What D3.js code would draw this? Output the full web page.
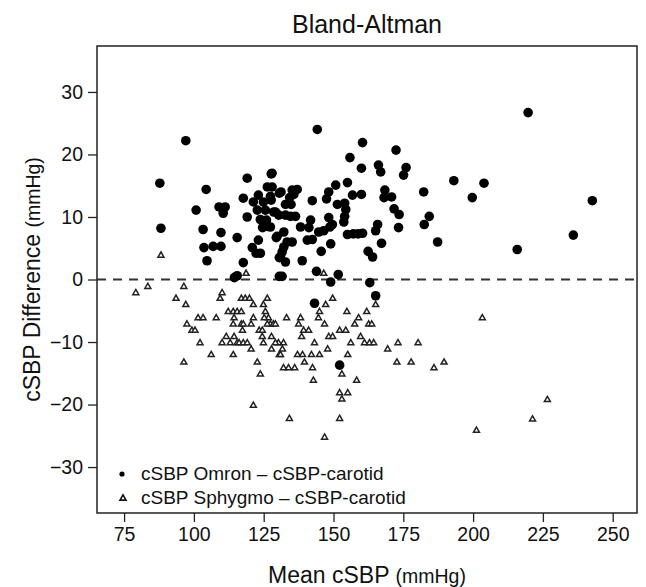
<!DOCTYPE html>
<html>
<head>
<meta charset="utf-8">
<script src="https://cdn.jsdelivr.net/npm/d3@7"></script>
<style>
  body { margin: 0; background: #fff; }
  svg { font-family: "Liberation Sans", Arial, sans-serif; }
</style>
</head>
<body>
<svg id="chart"></svg>
<script>
/*------------------------
  ------ VARIABLES -------
  ------------------------*/

// data : cSBP Omron - cSBP carotid (mean, difference)
var omron_mean = [97.1, 87.8, 88.2, 104.4, 100.8, 103.3, 103.6, 106.9, 104.7, 109.0, 111.2, 110.5, 109.7, 109.7,
    115.5, 117.7, 114.5, 115.5, 119.1, 117.7, 119.1, 121.3, 123.1, 126.3, 127.7, 124.9, 127.7, 122.7, 125.6,
    129.2, 123.8, 126.0, 124.6, 126.3, 129.5, 123.1, 120.9, 122.3, 123.8, 130.6, 130.6, 130.6,
    144.2, 160.4, 155.9, 172.4, 160.0, 166.1, 166.9, 176.0, 175.1, 193.1, 203.9, 199.7, 182.3, 184.3, 182.5,
    187.3, 168.4, 168.1, 170.8, 171.7, 173.5, 173.3, 165.8, 165.1, 167.2, 162.4, 164.0, 156.8, 160.0, 155.0,
    150.8, 148.3, 147.5, 151.4, 142.4, 154.0, 154.4, 154.0, 153.7, 148.3, 149.6, 148.7, 146.5, 144.7, 155.0,
    157.1, 158.8, 160.4, 149.0, 145.6, 143.9, 151.7, 149.0, 163.0, 165.1, 128.0, 128.0, 131.2, 135.2, 137.0,
    135.8, 134.3, 132.8, 134.8, 128.6, 130.4, 132.8, 134.6, 136.4, 138.2, 141.8, 141.2, 129.8, 132.2, 140.6,
    142.4, 133.4, 135.2, 132.2, 131.6, 131.0, 132.8, 138.8, 131.6, 127.4, 127.4,
    219.7, 242.7, 235.9, 215.8, 143.2, 152.2];
var omron_diff = [22.2, 15.4, 8.2, 14.4, 11.1, 8.0, 5.1, 5.3, 3.0, 11.6, 11.6, 10.6, 7.5, 5.3,
    6.7, 2.7, 0.3, 0.6, 16.2, 13.0, 10.0, 12.4, 13.5, 14.8, 16.9, 12.4, 12.7, 11.1, 11.1,
    10.8, 9.6, 9.5, 8.3, 8.5, 6.7, 6.3, 5.1, 4.2, 4.2, 3.5, 0.5, 13.8,
    24.0, 21.9, 19.5, 20.7, 17.8, 18.3, 17.2, 17.9, 16.7, 15.8, 15.4, 13.1, 14.0, 10.1, 8.8,
    6.0, 14.3, 13.1, 13.2, 11.3, 10.4, 8.3, 8.8, 7.8, 5.8, 4.5, 3.6, 13.5, 13.6, 15.5,
    15.1, 14.0, 12.9, 12.0, 12.6, 12.2, 11.2, 10.1, 9.2, 9.9, 8.8, 8.4, 7.8, 7.6, 7.2,
    7.3, 7.3, 7.4, 5.7, 4.5, 1.3, 0.8, -0.4, -0.5, -2.6, 17.0, 14.8, 14.0, 14.3, 14.4,
    13.6, 13.1, 12.0, 12.0, 10.8, 10.3, 10.3, 10.1, 10.1, 8.4, 9.5, 8.3, 6.9, 7.6, 6.3,
    6.4, 6.0, 6.0, 5.2, 4.4, 3.6, 2.8, 3.0, 0.5, 8.4, 13.3,
    26.7, 12.6, 7.1, 4.8, -3.8, -13.7];

// data : cSBP Sphygmo - cSBP carotid (mean, difference)
var sphygmo_mean = [88.2, 118.7, 146.5, 79.2, 83.5, 96.4, 93.6, 97.1, 110.1, 109.4, 117.0, 118.4, 119.9,
    121.3, 126.3, 124.9, 125.6, 112.3, 114.1, 115.5, 117.0, 97.5, 101.5, 103.3, 108.0, 99.3, 100.4, 102.2,
    106.2, 96.4, 114.4, 114.1, 117.0, 117.7, 121.3, 117.4, 120.5, 111.6, 114.4, 110.1, 113.0, 115.5, 116.2,
    117.7, 119.1, 114.1, 120.5, 122.7, 123.8, 121.3, 123.4, 124.5, 124.5, 124.9, 126.7, 127.4, 128.5, 129.2,
    127.8, 127.8, 130.3, 130.6, 125.2, 126.3, 133.2, 138.2, 137.5, 139.3, 141.1, 138.6, 129.2, 132.1, 131.7,
    131.0, 137.1, 138.9, 142.1, 145.0, 132.1, 133.9, 136.1, 139.6, 142.5, 142.8, 143.2, 147.9, 144.6, 146.8,
    145.0, 147.2, 149.7, 148.3, 149.7, 152.2, 154.4, 155.1, 156.2, 154.8, 153.0, 152.2, 155.1, 153.0, 158.3,
    152.2, 134.2, 146.8, 157.6, 159.0, 161.9, 159.7, 161.1, 162.9, 164.4, 162.6, 163.7, 165.1, 169.4, 173.1,
    180.3, 172.7, 177.8, 186.0, 189.6, 203.3, 201.2, 226.6, 221.3];
var sphygmo_diff = [3.9, 1.0, 1.0, -2.1, -1.1, -1.1, -3.0, -4.0, -2.1, -3.0, -3.0, -3.0, -3.0,
    -4.0, -3.0, -4.0, -5.1, -5.1, -5.1, -5.1, -5.1, -7.1, -6.1, -6.1, -6.1, -8.1, -8.1, -10.1,
    -12.0, -13.2, -6.1, -7.1, -7.1, -7.1, -6.1, -8.1, -7.1, -9.1, -9.1, -10.1, -10.1, -10.1, -10.1,
    -10.1, -10.1, -12.0, -11.1, -13.2, -15.1, -20.1, -8.1, -8.1, -9.1, -10.1, -6.1, -7.1, -7.1, -7.1,
    -9.1, -11.1, -10.1, -12.0, -6.1, -7.1, -6.1, -6.1, -7.1, -8.1, -8.1, -9.1, -10.1, -10.1, -11.1,
    -12.0, -12.0, -12.0, -12.0, -12.0, -14.1, -14.1, -14.1, -13.2, -14.1, -16.1, -10.1, -11.1, -6.1, -7.1,
    -5.1, -4.0, -3.0, -9.1, -9.1, -8.1, -8.1, -12.0, -10.1, -5.1, -15.1, -18.1, -18.1, -19.1, -16.1,
    -22.2, -22.2, -25.2, -7.1, -6.1, -5.1, -9.1, -10.1, -10.1, -10.1, -7.1, -7.1, -4.0, -11.1, -10.1,
    -10.1, -13.2, -13.2, -14.1, -13.2, -6.1, -24.1, -19.2, -22.3];

// axes
var x_ticks = [75, 100, 125, 150, 175, 200, 225, 250];
var y_ticks = [-30, -20, -10, 0, 10, 20, 30];
var legend_labels = ["cSBP Omron \u2013 cSBP-carotid", "cSBP Sphygmo \u2013 cSBP-carotid"];

// display
var width = 646, height = 587;
var box = {left: 97, right: 637, top: 46, bot: 513};

var x = d3.scaleLinear().domain([65.3, 258.7]).range([box.left, box.right]);
var y = d3.scaleLinear().domain([-37.35, 37.35]).range([box.bot, box.top]);

var svg = d3.select("#chart").attr("width", width).attr("height", height);

function tri_path(cx, cy, s) {
    var h = s * 0.87;
    return "M" + cx + "," + (cy - h * 0.6) +
        "L" + (cx + s / 2) + "," + (cy + h * 0.4) +
        "L" + (cx - s / 2) + "," + (cy + h * 0.4) + "Z";
}

/*------------------------
  -------- AXES ----------
  ------------------------*/

var gx = svg.append("g")
    .attr("transform", "translate(0," + box.bot + ")")
    .call(d3.axisBottom(x).tickValues(x_ticks).tickSize(9).tickPadding(5).tickFormat(d3.format("d")));
var gy = svg.append("g")
    .attr("transform", "translate(" + box.left + ",0)")
    .call(d3.axisLeft(y).tickValues(y_ticks).tickSize(9).tickPadding(5).tickFormat(d3.format("d")));

[gx, gy].forEach(function(g) {
    g.select(".domain").remove();
    g.selectAll(".tick line").attr("stroke", "#222").attr("stroke-width", 1.3);
    g.selectAll(".tick text").attr("fill", "#111").style("font-size", "19.5px")
        .style("font-family", "'Liberation Sans', Arial, sans-serif");
});

// zero line
svg.append("line")
    .attr("x1", box.left).attr("x2", box.right)
    .attr("y1", y(0)).attr("y2", y(0))
    .attr("stroke", "#333").attr("stroke-width", 2)
    .attr("stroke-dasharray", "9,7");

// frame
svg.append("rect")
    .attr("x", box.left).attr("y", box.top)
    .attr("width", box.right - box.left).attr("height", box.bot - box.top)
    .attr("fill", "none").attr("stroke", "#222").attr("stroke-width", 1.5);

/*------------------------
  -------- POINTS --------
  ------------------------*/

svg.append("g").selectAll("path")
    .data(d3.range(sphygmo_mean.length))
    .enter().append("path")
    .attr("d", function(i) { return tri_path(x(sphygmo_mean[i]), y(sphygmo_diff[i]), 6); })
    .attr("fill", "#fff").attr("stroke", "#222").attr("stroke-width", 1.5);

svg.append("g").selectAll("circle")
    .data(d3.range(omron_mean.length))
    .enter().append("circle")
    .attr("cx", function(i) { return x(omron_mean[i]); })
    .attr("cy", function(i) { return y(omron_diff[i]); })
    .attr("r", 4.8)
    .attr("fill", "#000");

/*------------------------
  -------- LEGEND --------
  ------------------------*/

svg.append("circle").attr("cx", 122).attr("cy", 474).attr("r", 2.6).attr("fill", "#000");
svg.append("path").attr("d", tri_path(123, 498, 6)).attr("fill", "#fff")
    .attr("stroke", "#111").attr("stroke-width", 1.6);

svg.selectAll(".leg")
    .data(legend_labels)
    .enter().append("text")
    .attr("class", "leg")
    .attr("x", 141)
    .attr("y", function(d, i) { return 480 + i * 24; })
    .style("font-size", "19px")
    .attr("fill", "#111")
    .text(function(d) { return d; });

/*------------------------
  -------- TITLES --------
  ------------------------*/

svg.append("text")
    .attr("x", (box.left + box.right) / 2).attr("y", 33)
    .attr("text-anchor", "middle")
    .style("font-size", "25px").attr("fill", "#111")
    .text("Bland-Altman");

var xt = svg.append("text")
    .attr("x", (box.left + box.right) / 2).attr("y", 583)
    .attr("text-anchor", "middle")
    .style("font-size", "23px").attr("fill", "#111");
xt.append("tspan").text("Mean cSBP ");
xt.append("tspan").style("font-size", "19.5px").text("(mmHg)");

var yt = svg.append("text")
    .attr("transform", "translate(40," + ((box.top + box.bot) / 2) + ") rotate(-90)")
    .attr("text-anchor", "middle")
    .style("font-size", "23px").attr("fill", "#111");
yt.append("tspan").text("cSBP Difference ");
yt.append("tspan").style("font-size", "19.5px").text("(mmHg)");
</script>
</body>
</html>
